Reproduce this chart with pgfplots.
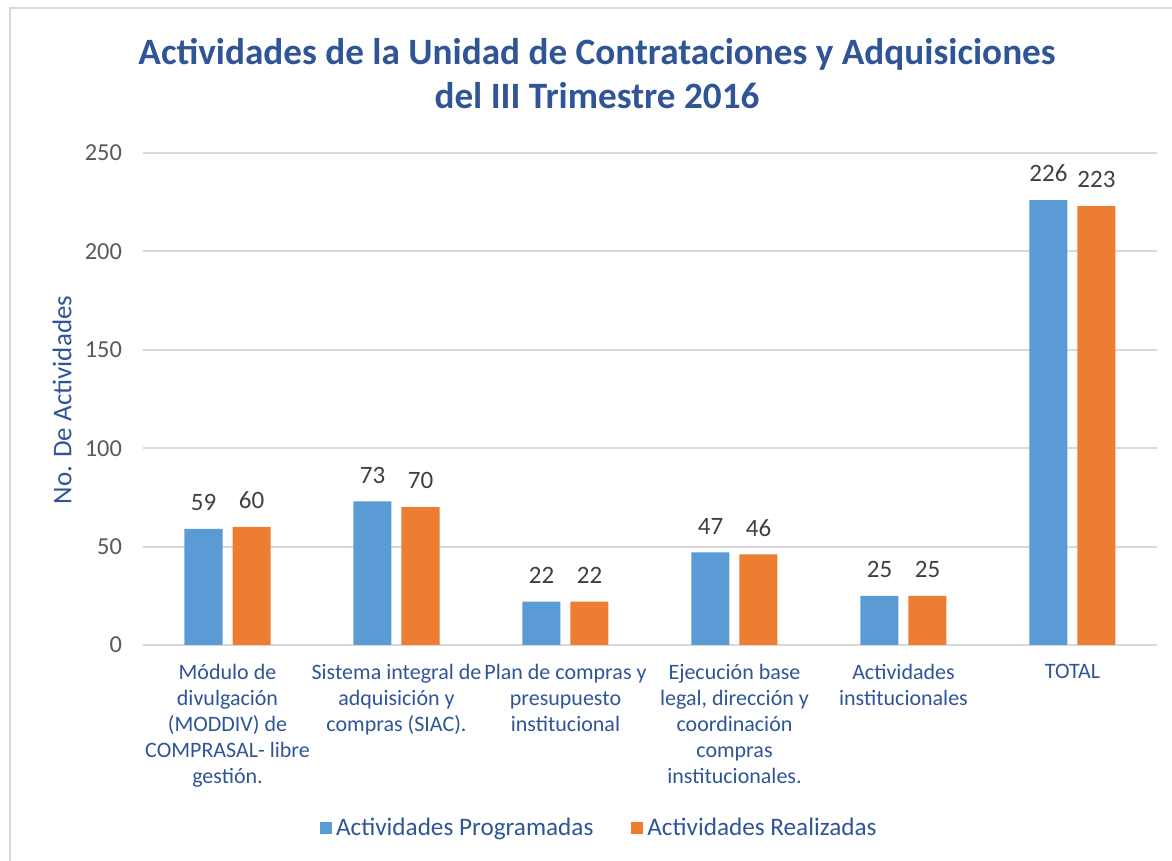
\documentclass[border=0pt]{standalone}
\usepackage{pgfplots}
\pgfplotsset{compat=1.18}
\usepackage{fontspec}
\setmainfont{Carlito}
\definecolor{titblue}{RGB}{47,85,151}
\definecolor{barblue}{RGB}{91,155,213}
\definecolor{barorange}{RGB}{237,125,49}
\definecolor{gridgray}{RGB}{217,217,217}
\definecolor{tickgray}{RGB}{89,89,89}
\definecolor{lblgray}{RGB}{64,64,64}
\begin{document}
\begin{tikzpicture}
\useasboundingbox (0,0) rectangle (586pt,430.5pt);
\begin{scope}
\clip (0,0) rectangle (586pt,430.5pt);
\draw[gridgray, line width=1pt] (5pt,-10pt) rectangle (600pt,426.5pt);
\end{scope}
\node[anchor=base, font=\fontsize{18.6}{22}\selectfont\bfseries, text=titblue] at (298.5pt,398pt) {Actividades de la Unidad de Contrataciones y Adquisiciones};
\node[anchor=base, font=\fontsize{18.6}{22}\selectfont\bfseries, text=titblue] at (298.5pt,376pt) {del III Trimestre 2016};
\node[rotate=90, font=\fontsize{13.5}{15}\selectfont, text=titblue] at (31pt,230.5pt) {No. De Actividades};
\begin{axis}[
  at={(71.5pt,108pt)}, anchor=south west,
  width=507pt, height=246pt, scale only axis,
  ybar=5pt, bar width=19pt,
  xmin=-0.5, xmax=5.5, ymin=0, ymax=250,
  ytick={0,50,...,250},
  xtick={0,...,5},
  xticklabels={{Módulo de\\divulgación\\(MODDIV) de\\COMPRASAL- libre\\gestión.},
    {Sistema integral de\\adquisición y\\compras (SIAC).},
    {Plan de compras y\\presupuesto\\institucional},
    {Ejecución base\\legal, dirección y\\coordinación\\compras\\institucionales.},
    {Actividades\\institucionales},
    {TOTAL}},
  x tick label style={align=center, text=titblue, font=\fontsize{11}{13}\selectfont, yshift=-6pt},
  y tick label style={text=tickgray, font=\fontsize{12.2}{14}\selectfont, xshift=-7pt},
  /pgf/number format/assume math mode=true,
  ymajorgrids, grid style={gridgray, line width=1pt},
  axis line style={draw=none},
  axis x line*=bottom,
  x axis line style={draw=gridgray, line width=1pt},
  major tick length=0pt,
  nodes near coords,
  every node near coord/.append style={text=lblgray, font=\fontsize{12.5}{14}\selectfont, yshift=5.5pt},
  legend style={at={(0.451,-0.372)}, anchor=center, draw=none, legend columns=2,
    font=\fontsize{12.6}{14}\selectfont, text=titblue,
    /tikz/every even column/.append style={column sep=17pt}},
  legend image code/.code={\fill[#1] (0pt,-3pt) rectangle (6pt,3pt);},
]
\addplot[fill=barblue, draw=none] coordinates {(0,59) (1,73) (2,22) (3,47) (4,25) (5,226)};
\addplot[fill=barorange, draw=none] coordinates {(0,60) (1,70) (2,22) (3,46) (4,25) (5,223)};
\legend{Actividades Programadas, Actividades Realizadas}
\end{axis}
\end{tikzpicture}
\end{document}
